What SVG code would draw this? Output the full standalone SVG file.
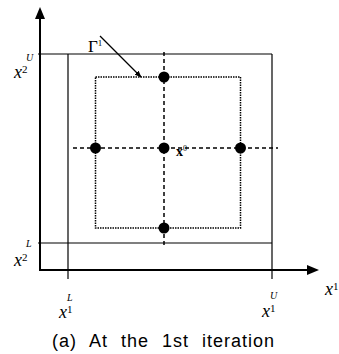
<svg xmlns="http://www.w3.org/2000/svg" width="339" height="354" viewBox="0 0 339 354">
<style>
.ax{stroke:#000;stroke-width:2;fill:none}
.ln{stroke:#000;stroke-width:1.2;fill:none}
.dot{stroke:#000;stroke-width:1.5;fill:none;stroke-dasharray:1.5 1}
.dash{stroke:#000;stroke-width:1.5;fill:none;stroke-dasharray:4 3}
.pt{fill:#000}
.lb{font-family:"Liberation Serif",serif;font-style:italic;fill:#000;font-size:18px}
.sm{font-family:"Liberation Serif",serif;font-style:italic;fill:#000;font-size:10px}
.sup{font-style:normal;font-size:11px}
.up{font-family:"Liberation Serif",serif;fill:#000}
.cap{font-family:"Liberation Sans",Arial,sans-serif;font-size:18px;letter-spacing:1px;word-spacing:7px;fill:#000}
</style>
<defs>
<marker id="ah" viewBox="0 0 10 10" refX="9" refY="5" markerWidth="7" markerHeight="7" orient="auto" markerUnits="userSpaceOnUse">
<path d="M0,1 L10,5 L0,9 z" fill="#000"/>
</marker>
</defs>
<g id="connectors">
<line class="ax" x1="40" y1="271" x2="40" y2="18"/>
<path d="M40,7 L35,19 L45,19 z" fill="#000"/>
<line class="ax" x1="39" y1="270" x2="309" y2="270"/>
<path d="M319,270 L307,265 L307,275 z" fill="#000"/>
<line class="ln" x1="100" y1="36" x2="141" y2="77" marker-end="url(#ah)"/>
</g>
<g id="outer-box">
<line class="ln" x1="38" y1="54" x2="272" y2="54"/>
<line class="ln" x1="38" y1="243" x2="272" y2="243"/>
<line class="ln" x1="68" y1="54" x2="68" y2="279"/>
<line class="ln" x1="272" y1="54" x2="272" y2="279"/>
</g>
<g id="inner-box">
<rect class="dot" x="95.5" y="77" width="145" height="151"/>
</g>
<g id="cross">
<line class="dash" x1="73" y1="148" x2="278" y2="148"/>
<line class="dash" x1="164" y1="52" x2="164" y2="248"/>
</g>
<g id="points">
<circle class="pt" cx="164" cy="77" r="5.5"/>
<circle class="pt" cx="164" cy="228" r="5.5"/>
<circle class="pt" cx="95.5" cy="148" r="5.5"/>
<circle class="pt" cx="164" cy="148" r="5.5"/>
<circle class="pt" cx="240.5" cy="148" r="5.5"/>
</g>
<g id="labels">
<text class="up" x="88" y="52" font-size="17">Γ<tspan font-size="9" dy="-6">1</tspan></text>
<text class="up" x="176" y="156" font-size="14" font-weight="bold">x<tspan font-size="8" dy="-5" font-weight="normal">0</tspan></text>
<text class="sm" x="26" y="61">U</text>
<text class="lb" x="14" y="78">x<tspan class="sup" dy="-5">2</tspan></text>
<text class="sm" x="26" y="247">L</text>
<text class="lb" x="14" y="266">x<tspan class="sup" dy="-5">2</tspan></text>
<text class="sm" x="67" y="301">L</text>
<text class="lb" x="59" y="318">x<tspan class="sup" dy="-5">1</tspan></text>
<text class="sm" x="270" y="299">U</text>
<text class="lb" x="262" y="317">x<tspan class="sup" dy="-5">1</tspan></text>
<text class="lb" x="325" y="295">x<tspan class="sup" dy="-5">1</tspan></text>
<text class="cap" x="52" y="347">(a) At the 1st iteration</text>
</g>
</svg>
